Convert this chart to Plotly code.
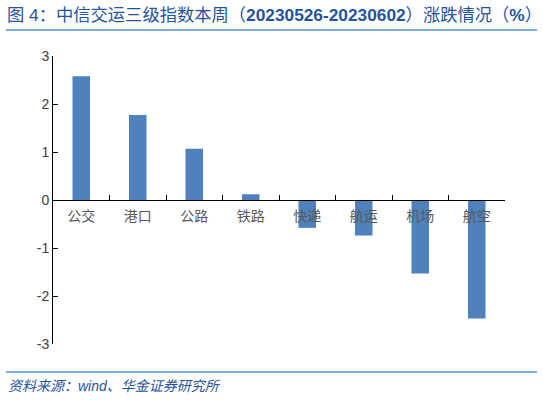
import plotly.graph_objects as go

# data
categories = ["公交", "港口", "公路", "铁路", "快递", "航运", "机场", "航空"]
changes = [2.58, 1.77, 1.07, 0.12, -0.58, -0.74, -1.53, -2.47]
y_ticks = [-3, -2, -1, 0, 1, 2, 3]
y_tick_text = ["-3", "-2", "-1", "0", "1", "2", "3"]

title_text = "图 4：中信交运三级指数本周（<b>20230526-20230602</b>）涨跌情况（<b>%</b>）"
source_text = "资料来源：wind、华金证券研究所"

W, H = 543, 400
M = dict(l=53, r=38, t=56, b=56)
PW = W - M["l"] - M["r"]
PH = H - M["t"] - M["b"]


def px_x(x):
    return (x - M["l"]) / PW


def px_y(y):
    return (H - M["b"] - y) / PH


fig = go.Figure(go.Bar(
    x=categories, y=changes,
    marker=dict(color="#4f81bd", line=dict(width=0)),
    width=0.31,
))

fig.update_layout(
    width=W, height=H, margin=M,
    paper_bgcolor="white", plot_bgcolor="white",
    showlegend=False,
    font=dict(family="Noto Sans CJK SC, Liberation Sans, Arial", size=14, color="#404040"),
    xaxis=dict(
        anchor="free", position=0.5,
        showline=True, linecolor="black", linewidth=1,
        ticks="inside", tickson="boundaries", ticklen=5, tickcolor="black",
        tickfont=dict(size=14, color="#595959"),
        ticklabelstandoff=3,
        showgrid=False, zeroline=False,
    ),
    yaxis=dict(
        range=[-3, 3], tickvals=y_ticks, ticktext=y_tick_text,
        showline=True, linecolor="black", linewidth=1,
        ticks="inside", ticklen=5, tickcolor="black",
        tickfont=dict(family="Liberation Sans, Arial", size=14, color="#404040"),
        showgrid=False, zeroline=False,
    ),
    shapes=[
        dict(type="line", xref="paper", yref="paper",
             x0=px_x(6), x1=px_x(537), y0=px_y(30), y1=px_y(30),
             line=dict(color="#7aaed8", width=2)),
        dict(type="line", xref="paper", yref="paper",
             x0=px_x(6), x1=px_x(537), y0=px_y(372), y1=px_y(372),
             line=dict(color="#7aaed8", width=2)),
    ],
    annotations=[
        dict(text=title_text, xref="paper", yref="paper",
             x=px_x(5), y=px_y(15), xanchor="left", yanchor="middle",
             showarrow=False,
             font=dict(family="Liberation Sans, Noto Sans CJK SC", size=17.3, color="#24549c")),
        dict(text="<i>" + source_text + "</i>", xref="paper", yref="paper",
             x=px_x(6), y=px_y(386), xanchor="left", yanchor="middle",
             showarrow=False,
             font=dict(family="Liberation Sans, Noto Sans CJK SC", size=14, color="#24549c")),
    ],
)

# drop the browser's default body margin so the figure fills the window
fig.write_html("out.html", config={"displayModeBar": False},
               post_script="document.body.style.margin='0px';")
